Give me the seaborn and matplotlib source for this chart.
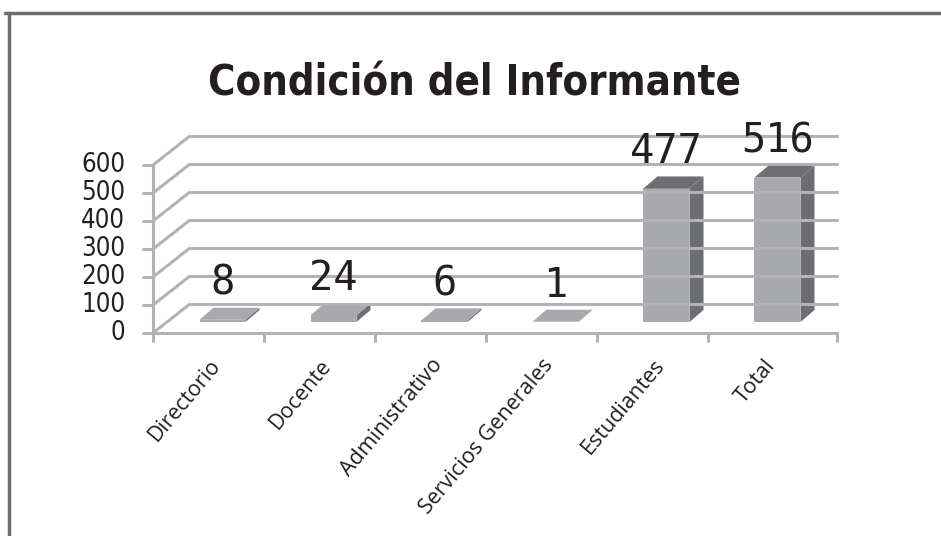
import matplotlib
matplotlib.use("Agg")
import matplotlib.pyplot as plt
from matplotlib.patches import Polygon
from matplotlib.lines import Line2D
import seaborn as sns

sns.set_theme(style="white")
plt.rcParams["font.family"] = ["DejaVu Sans"]
plt.rcParams["font.stretch"] = "condensed"

# data
categorias = ["Directorio", "Docente", "Administrativo",
              "Servicios Generales", "Estudiantes", "Total"]
valores = [8, 24, 6, 1, 477, 516]
y_ticks = [0, 100, 200, 300, 400, 500, 600]

FRONT = "#a7a9ac"
DARK = "#6d6e71"
GRID = "#b3b3b3"

W, H = 941, 536
PX_X = 111.0      # pixels per category
PX_Y = 0.28       # pixels per unit
X0, Y0 = 153, 333  # origin in pixels (from top-left)

fig = plt.figure(figsize=(W / 100, H / 100), dpi=100)
ax = fig.add_axes([0, 0, 1, 1])
ax.set_xlim(-X0 / PX_X, (W - X0) / PX_X)
ax.set_ylim(-(H - Y0) / PX_Y, Y0 / PX_Y)
ax.axis("off")

# wall depth (data units)
DX, DY = 37 / PX_X, 29 / PX_Y
XEND = (837 - X0) / PX_X

# back wall grid + left wall slants
for v in y_ticks:
    ax.plot([0, DX], [v, v + DY], color=GRID, lw=2.2, solid_capstyle="butt")
    ax.plot([DX, XEND], [v + DY, v + DY], color=GRID, lw=2.2)
    ax.plot([-10 / PX_X, 0], [v, v], color=GRID, lw=2.2)
    ax.text(-28 / PX_X, v, str(v), ha="right", va="center",
            fontsize=18.5, color="#231f20")
ax.plot([0, 0], [0, y_ticks[-1]], color=GRID, lw=2.2)

# front x axis
ax.plot([0, XEND], [0, 0], color=GRID, lw=2.2)
for t in list(range(len(categorias))) + [XEND]:
    ax.plot([t, t], [0, -8 / PX_Y], color=GRID, lw=2.2)

# bars (front faces via seaborn, shifted to middle depth)
BW = 46 / PX_X
SHX, SHY = 14 / PX_X, 11 / PX_Y     # bar front position inside depth
BDX, BDY = 14 / PX_X, 12 / PX_Y     # bar own depth
centros = [i + 0.5 + SHX for i in range(len(categorias))]

sns.barplot(x=centros, y=valores, native_scale=True, width=BW,
            color=FRONT, saturation=1, linewidth=0, ax=ax)
for p in ax.patches:
    p.set_y(SHY)

for c, v in zip(centros, valores):
    left, right = c - BW / 2, c + BW / 2
    base, top = SHY, SHY + v
    top_col = DARK if v > 50 else FRONT
    ax.add_patch(Polygon([(right, base), (right, top), (right + BDX, top + BDY),
                          (right + BDX, base + BDY)], closed=True,
                         facecolor=DARK, edgecolor="none"))
    ax.add_patch(Polygon([(left, top), (right, top), (right + BDX, top + BDY),
                          (left + BDX, top + BDY)], closed=True,
                         facecolor=top_col, edgecolor="none"))
    ax.text(c, v + SHY + BDY + 13 / PX_Y, str(v), ha="center", va="baseline",
            fontsize=29, family="DejaVu Sans Mono", fontstretch="normal",
            color="#231f20")

# category labels
for i, cat in enumerate(categorias):
    ax.text(i + 0.5, -22 / PX_Y, cat, ha="right", va="top", rotation=50,
            rotation_mode="anchor", fontsize=15.5, family=["Open Sans", "DejaVu Sans"],
            fontstretch="normal", color="#231f20")

# title
fig.text(474 / W, 1 - 95 / H, "Condición del Informante", ha="center",
         va="baseline", fontsize=30, fontweight="bold", color="#231f20")

# frame
fig.add_artist(Line2D([5 / W, 1], [1 - 13 / H, 1 - 13 / H], color=DARK, lw=2.5,
                      transform=fig.transFigure))
fig.add_artist(Line2D([9 / W, 9 / W], [0, 1 - 13 / H], color=DARK, lw=2.5,
                      transform=fig.transFigure))

fig.savefig("out.png", dpi=100, facecolor="white")
